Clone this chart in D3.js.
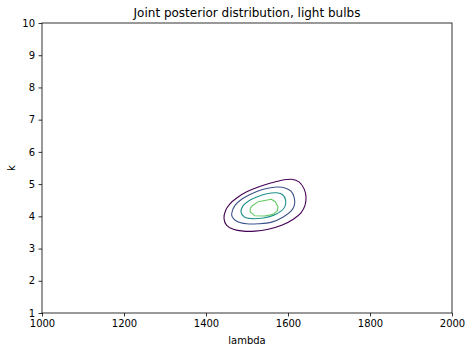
<!DOCTYPE html>
<html>
<head>
<meta charset="utf-8">
<script src="https://cdn.jsdelivr.net/npm/d3@7"></script>
<style>
  body { margin: 0; background: #fff; }
  text { font-family: "DejaVu Sans", sans-serif; fill: #000; }
</style>
</head>
<body>
<div id="chart"></div>
<script>
// Axis ticks
const lambdaTicks = [1000, 1200, 1400, 1600, 1800, 2000];
const kTicks = [1, 2, 3, 4, 5, 6, 7, 8, 9, 10];

// Contour lines, as [lambda, k] points
const level1 = [
  [1443.9, 3.93], [1448, 4.19], [1458.5, 4.39], [1474.9, 4.57], [1499.3, 4.76],
  [1527.6, 4.91], [1560.2, 5.04], [1588.5, 5.13], [1609, 5.15], [1626.8, 5.07],
  [1639, 4.86], [1643.9, 4.6], [1641.5, 4.34], [1631.7, 4.11], [1612.9, 3.91],
  [1584.6, 3.72], [1552, 3.6], [1519.5, 3.54], [1491, 3.54], [1466.6, 3.6],
  [1450.5, 3.72]
];
const level2 = [
  [1462.6, 4.08], [1470.7, 4.34], [1487, 4.53], [1511.4, 4.70], [1539.8, 4.84],
  [1572.4, 4.91], [1592.7, 4.88], [1607.3, 4.78], [1615.4, 4.57], [1615.4, 4.34],
  [1607.3, 4.16], [1588.5, 3.98], [1560.2, 3.82], [1527.6, 3.77], [1499.2, 3.77],
  [1474.8, 3.85], [1464.2, 3.98]
];
const level3 = [
  [1485.4, 4.13], [1491, 4.34], [1503.2, 4.47], [1523.6, 4.60], [1548, 4.70],
  [1572.4, 4.73], [1587, 4.67], [1594.3, 4.50], [1592.7, 4.31], [1583, 4.16],
  [1564.2, 4.03], [1539.8, 3.95], [1511.4, 3.93], [1493.4, 3.98]
];
const level4 = [
  [1508, 4.25], [1512.9, 4.33], [1526.8, 4.45], [1559.3, 4.53], [1569, 4.45],
  [1575.6, 4.30], [1573.9, 4.17], [1563.4, 4.06], [1543.2, 4.01], [1518.8, 4.02],
  [1508, 4.13]
];
const levelColors = ["#440154", "#3b528b", "#21918c", "#5ec962"];

const W = 472, H = 352;
const margin = { top: 23, right: 20, bottom: 39, left: 42 };
const width = W - margin.left - margin.right,
      height = H - margin.top - margin.bottom;

const svg = d3.select("#chart").append("svg")
  .attr("width", W)
  .attr("height", H);

const g = svg.append("g")
  .attr("transform", `translate(${margin.left},${margin.top})`);

const x = d3.scaleLinear().domain([1000, 2000]).range([0, width]);
const y = d3.scaleLinear().domain([1, 10]).range([height, 0]);

// Contours
const smooth = d3.line()
  .x(d => x(d[0]))
  .y(d => y(d[1]))
  .curve(d3.curveCatmullRomClosed);
const straight = d3.line()
  .x(d => x(d[0]))
  .y(d => y(d[1]))
  .curve(d3.curveLinearClosed);

[level1, level2, level3, level4].forEach((pts, i) => {
  g.append("path")
    .attr("d", i === 3 ? straight(pts) : smooth(pts))
    .attr("fill", "none")
    .attr("stroke", levelColors[i])
    .attr("stroke-width", 1.1)
    .attr("stroke-linejoin", "round");
});

// Axes
const xAxis = g.append("g")
  .attr("transform", `translate(0,${height})`)
  .call(d3.axisBottom(x).tickValues(lambdaTicks).tickSize(3.5).tickPadding(3.5).tickFormat(d3.format("d")));
const yAxis = g.append("g")
  .call(d3.axisLeft(y).tickValues(kTicks).tickSize(3.5).tickPadding(3.5));

[xAxis, yAxis].forEach(a => {
  a.select(".domain").remove();
  a.selectAll("line").attr("stroke", "#000").attr("stroke-width", 0.8);
  a.selectAll("text").style("font-size", "10px").attr("fill", "#000");
});

// Frame
g.append("rect")
  .attr("width", width)
  .attr("height", height)
  .attr("fill", "none")
  .attr("stroke", "#000")
  .attr("stroke-width", 0.8);

// Labels
svg.append("text")
  .attr("x", margin.left + width / 2)
  .attr("y", margin.top - 6)
  .attr("text-anchor", "middle")
  .style("font-size", "12px")
  .text("Joint posterior distribution, light bulbs");

svg.append("text")
  .attr("x", margin.left + width / 2)
  .attr("y", H - 8)
  .attr("text-anchor", "middle")
  .style("font-size", "10px")
  .text("lambda");

svg.append("text")
  .attr("transform", `translate(15,${margin.top + height / 2}) rotate(-90)`)
  .attr("text-anchor", "middle")
  .style("font-size", "10px")
  .text("k");
</script>
</body>
</html>
